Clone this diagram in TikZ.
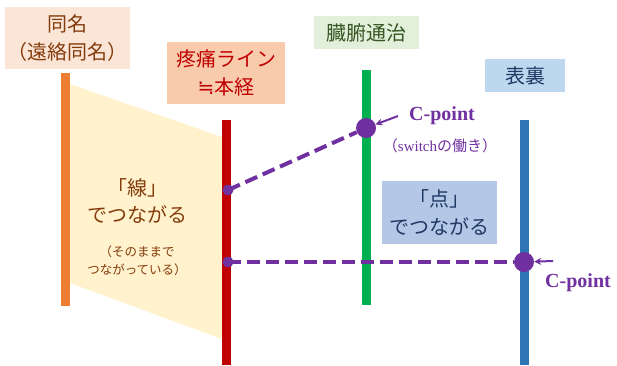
\documentclass[tikz,border=0pt]{standalone}
\usepackage{fontspec}
\setmainfont{Noto Sans CJK JP}
\newfontfamily\tnr{Liberation Serif}
\newfontfamily\djv{DejaVu Sans}
\usetikzlibrary{arrows.meta}
\definecolor{brownT}{HTML}{843C0C}
\definecolor{peach}{HTML}{FBE5D6}
\definecolor{salmon}{HTML}{F8CBAD}
\definecolor{redL}{HTML}{C00000}
\definecolor{greenBox}{HTML}{E2EFDA}
\definecolor{greenT}{HTML}{375623}
\definecolor{greenL}{HTML}{00B050}
\definecolor{blueBox}{HTML}{BDD7EE}
\definecolor{blueBox2}{HTML}{B4C7E7}
\definecolor{navy}{HTML}{1F3864}
\definecolor{blueL}{HTML}{2E75B6}
\definecolor{orangeL}{HTML}{ED7D31}
\definecolor{creme}{HTML}{FFF2CC}
\definecolor{purp}{HTML}{7030A0}
\begin{document}
\begin{tikzpicture}[x=1pt,y=-1pt,
  labelbox/.style={inner sep=0pt, align=center, font=\fontsize{20}{27.5}\selectfont},
  vline/.style={line width=9pt},
  pdash/.style={purp, line width=4pt, dash pattern=on 13pt off 6pt},
  bigdot/.style={circle, fill=purp, inner sep=0pt, minimum size=20pt},
  smalldot/.style={circle, fill=purp, inner sep=0pt, minimum size=11pt},
  parrow/.style={purp, line width=2pt, -{Stealth[length=7pt,width=7pt]}},
  cptext/.style={purp, font=\tnr\bfseries\fontsize{20}{24}\selectfont, inner sep=0pt},
]
\useasboundingbox (0,0) rectangle (617,365);
% trapezoid
\fill[creme] (70,84) -- (222,137) -- (222,339) -- (70,283) -- cycle;
% vertical lines
\draw[vline, orangeL] (65.5,73) -- (65.5,306);
\draw[vline, redL] (226,120) -- (226,365);
\draw[vline, greenL] (366.5,70) -- (366.5,305);
\draw[vline, blueL] (524.5,120) -- (524.5,365);
% header boxes
\node[labelbox, fill=peach, text=brownT, minimum width=125pt, minimum height=62pt] (tomei) at (67.5,38) {同名\\（遠絡同名）};
\node[labelbox, fill=salmon, text=redL, minimum width=118pt, minimum height=62pt] (totsu) at (226,73) {疼痛ライン\\{\djv ≒}本経};
\node[labelbox, fill=greenBox, text=greenT, minimum width=105pt, minimum height=33pt] (zofu) at (366.5,32.5) {臓腑通治};
\node[labelbox, fill=blueBox, text=navy, minimum width=80pt, minimum height=33pt] (hyori) at (525,75.5) {表裏};
\node[labelbox, fill=blueBox2, text=navy, minimum width=115pt, minimum height=63pt] (ten) at (439.5,212.5) {「点」\\でつながる};
% line text
\node[labelbox, text=brownT] (sen) at (137,201) {「線」\\でつながる};
\node[inner sep=0pt, align=center, text=brownT, font=\fontsize{12.5}{18}\selectfont] (sono) at (137,261) {（そのままで\\つながっている）};
% dots
\node[smalldot] (d1) at (228,190) {};
\node[smalldot] (d2) at (228,262) {};
\node[bigdot] (c1) at (366,128) {};
\node[bigdot] (c2) at (524,262) {};
\draw[pdash] (d1.center) -- (c1);
\draw[pdash] (d2.center) -- (c2);
% C-point labels
\node[cptext] (cp1) at (442,116) {C-point};
\node[inner sep=0pt, text=purp, font=\fontsize{15}{18}\selectfont] (sw) at (440,146) {（{\tnr switch}の働き）};
\node[cptext] (cp2) at (578,283) {C-point};
\coordinate (a1) at (398,116);
\coordinate (a2) at (553,261);
\draw[parrow] (a1) -- (c1);
\draw[parrow] (a2) -- (c2);
\end{tikzpicture}
\end{document}
